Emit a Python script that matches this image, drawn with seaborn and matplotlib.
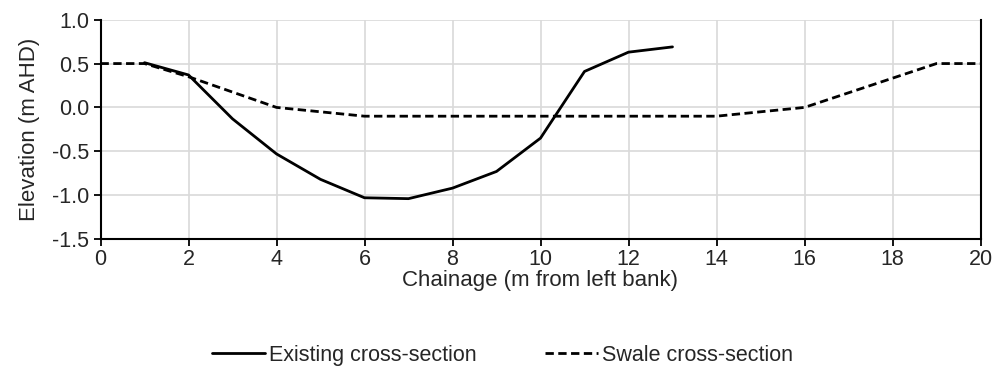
import matplotlib
matplotlib.use("Agg")
import matplotlib.pyplot as plt
import seaborn as sns
import pandas as pd

# Existing channel survey
existing_chainage = [1, 2, 3, 4, 5, 6, 7, 8, 9, 10, 11, 12, 13]
existing_elev = [0.51, 0.37, -0.13, -0.53, -0.82, -1.03, -1.04, -0.92, -0.73, -0.35, 0.41, 0.63, 0.69]

# Proposed swale design
swale_chainage = [0, 1, 2, 4, 6, 14, 16, 19, 20]
swale_elev = [0.5, 0.5, 0.35, 0.0, -0.1, -0.1, 0.0, 0.5, 0.5]

x_ticks = [0, 2, 4, 6, 8, 10, 12, 14, 16, 18, 20]
y_ticks = [-1.5, -1.0, -0.5, 0.0, 0.5, 1.0]

sns.set_theme(style="white")
plt.rcParams["font.family"] = ["Liberation Sans", "DejaVu Sans"]

existing = pd.DataFrame({"x": existing_chainage, "y": existing_elev})
swale = pd.DataFrame({"x": swale_chainage, "y": swale_elev})

fig = plt.figure(figsize=(10, 3.69), dpi=100)
ax = fig.add_axes([0.1005, 1 - 239 / 369, 0.880, (239 - 19.7) / 369])

sns.lineplot(data=existing, x="x", y="y", ax=ax, color="black", linewidth=2,
             label="Existing cross-section")
sns.lineplot(data=swale, x="x", y="y", ax=ax, color="black", linewidth=2,
             linestyle=(0, (3, 1.6)), label="Swale cross-section")

ax.set_xlim(0, 20)
ax.set_ylim(-1.5, 1.0)
ax.set_xticks(x_ticks)
ax.set_yticks(y_ticks)
ax.set_xticklabels([f"{v:g}" for v in x_ticks])
ax.set_yticklabels([f"{v:.1f}" for v in y_ticks])
ax.grid(True, color="#d9d9d9", linewidth=1.2)
ax.set_axisbelow(True)

for side in ("left", "bottom", "right"):
    ax.spines[side].set_visible(True)
    ax.spines[side].set_color("black")
    ax.spines[side].set_linewidth(1.5)
ax.spines["top"].set_visible(False)

ax.tick_params(axis="both", which="both", direction="out", length=5, width=1.3,
               color="black", labelsize=15.5, labelcolor="#262626", pad=2,
               bottom=True, left=True)
ax.tick_params(axis="y", pad=3)
ax.set_xlabel("Chainage (m from left bank)", fontsize=16, color="#262626", labelpad=0)
ax.set_ylabel("Elevation (m AHD)", fontsize=16, color="#262626", labelpad=9)

ax.legend(loc="center", bbox_to_anchor=(0.457, -0.53), ncol=2, frameon=False,
          fontsize=15.5, handlelength=2.45, handletextpad=0.2, columnspacing=3.2,
          labelcolor="#262626")

fig.savefig("out.png", dpi=100)
